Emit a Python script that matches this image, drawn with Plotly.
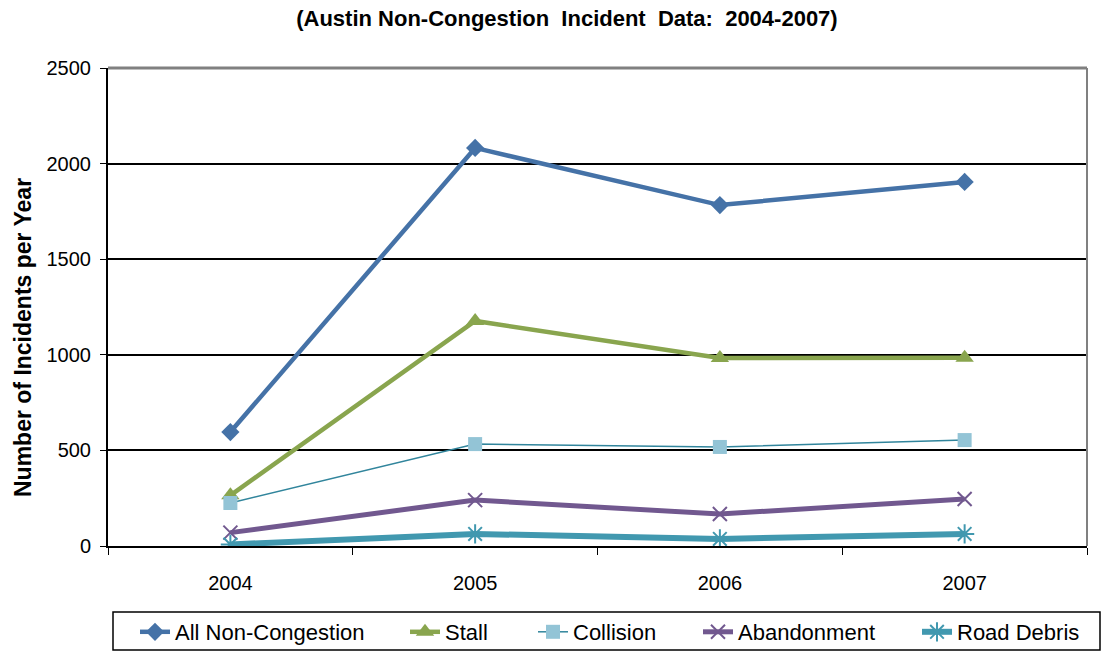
import plotly.graph_objects as go

years = ["2004", "2005", "2006", "2007"]
all_nc = [596, 2082, 1783, 1904]
stall = [265, 1177, 983, 985]
collision = [225, 533, 518, 554]
abandonment = [70, 240, 167, 246]
road_debris = [8, 63, 37, 63]

FONT = "Liberation Sans, Arial, sans-serif"
L, T, R, B, W, H = 108, 68, 16, 109, 1103, 655
PW, PH = W - L - R, H - T - B


def px(x):
    return (x - L) / PW


def py(y):
    return (H - B - y) / PH


fig = go.Figure()
fig.add_trace(go.Scatter(x=years, y=all_nc, name="All Non-Congestion", mode="lines+markers",
                         line=dict(color="#4572A7", width=4.5), legend="legend",
                         marker=dict(symbol="diamond", size=14, color="#4572A7")))
fig.add_trace(go.Scatter(x=years, y=stall, name="Stall", mode="lines+markers",
                         line=dict(color="#89A54E", width=4.5), legend="legend2",
                         marker=dict(symbol="triangle-up", size=16, color="#89A54E")))
fig.add_trace(go.Scatter(x=years, y=collision, name="Collision", mode="lines+markers",
                         line=dict(color="#31859C", width=1.5), legend="legend3",
                         marker=dict(symbol="square", size=14, color="#93C4D6")))
fig.add_trace(go.Scatter(x=years, y=abandonment, name="Abandonment", mode="lines+markers",
                         line=dict(color="#71588F", width=5), legend="legend4",
                         marker=dict(symbol="x-thin-open", size=14, color="#71588F",
                                     line=dict(color="#71588F", width=2))))
fig.add_trace(go.Scatter(x=years, y=road_debris, name="Road Debris", mode="lines+markers",
                         line=dict(color="#4198AF", width=6), legend="legend5",
                         marker=dict(symbol="asterisk-open", size=16, color="#4198AF",
                                     line=dict(color="#4198AF", width=2))))

legend_text_x = [175, 445, 573, 738, 957]
legend_common = dict(orientation="h", xref="container", yref="container",
                     yanchor="middle", y=1 - 632 / H, xanchor="left",
                     bgcolor="rgba(0,0,0,0)", borderwidth=0,
                     font=dict(family=FONT, size=22, color="black"))
legends = {}
for i, tx in enumerate(legend_text_x):
    key = "legend" if i == 0 else f"legend{i + 1}"
    legends[key] = dict(legend_common, x=(tx - 40) / W)

fig.update_layout(
    width=W, height=H,
    margin=dict(l=L, r=R, t=T, b=B, autoexpand=False),
    paper_bgcolor="white", plot_bgcolor="white",
    font=dict(family=FONT, size=20, color="black"),
    title=dict(text="<b>(Austin Non-Congestion  Incident  Data:  2004-2007)</b>",
               x=0.514, xanchor="center", y=1 - 18 / H, yanchor="middle",
               font=dict(family=FONT, size=22, color="black")),
    showlegend=True,
    **legends,
)
fig.update_xaxes(type="category", range=[-0.5, 3.5], tickson="boundaries",
                 ticks="outside", ticklen=7, tickcolor="black", showline=True,
                 linecolor="black", linewidth=2, showgrid=False,
                 ticklabelstandoff=18, tickfont=dict(size=20))
fig.update_yaxes(range=[0, 2500], dtick=500, ticks="outside", ticklen=6, tickcolor="black",
                 showline=True, linecolor="black", linewidth=2, showgrid=True,
                 gridcolor="black", gridwidth=1.5, zeroline=False,
                 ticklabelstandoff=5, tickfont=dict(size=20))
fig.add_annotation(text="<b>Number of Incidents per Year</b>", textangle=-90,
                   xref="paper", yref="paper", x=px(23), y=py(338),
                   xanchor="center", yanchor="middle", showarrow=False,
                   font=dict(family=FONT, size=23, color="black"))
# gray top/right frame
fig.add_shape(type="line", xref="paper", yref="paper", x0=0, x1=1, y0=1, y1=1,
              line=dict(color="#808080", width=3))
fig.add_shape(type="line", xref="paper", yref="paper", x0=1, x1=1, y0=0, y1=1,
              line=dict(color="#808080", width=2))
# legend box
fig.add_shape(type="rect", xref="paper", yref="paper",
              x0=px(113), x1=px(1100), y0=py(650), y1=py(612),
              line=dict(color="black", width=1.5), fillcolor="rgba(0,0,0,0)")

fig.write_html("out.html", config={"displayModeBar": False},
               post_script="document.body.style.margin='0';")
